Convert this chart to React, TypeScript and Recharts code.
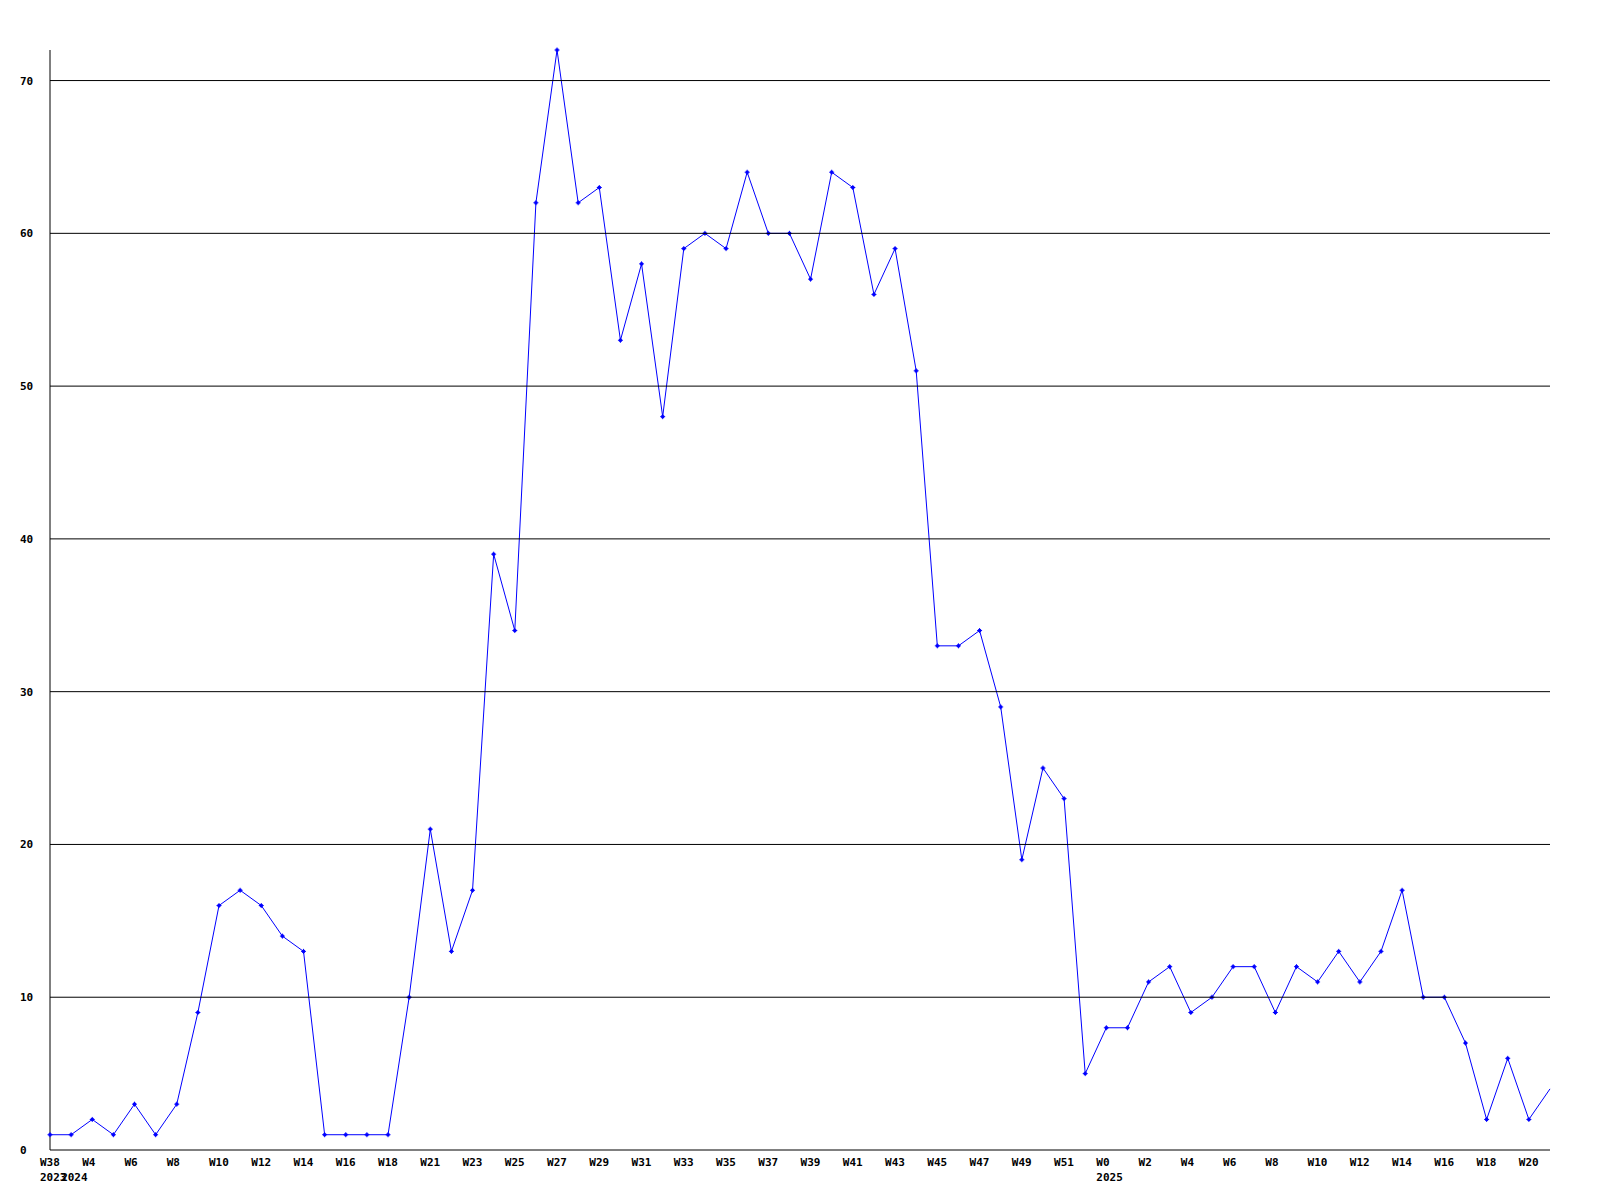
import React from 'react';
import { LineChart, Line, XAxis, YAxis, ReferenceLine } from 'recharts';

// week labels, one per point
const weeks = [
  'W38', 'W3', 'W4', 'W5', 'W6', 'W7', 'W8', 'W9', 'W10', 'W11', 'W12', 'W13',
  'W14', 'W15', 'W16', 'W17', 'W18', 'W19', 'W21', 'W22', 'W23', 'W24', 'W25', 'W26',
  'W27', 'W28', 'W29', 'W30', 'W31', 'W32', 'W33', 'W34', 'W35', 'W36', 'W37', 'W38',
  'W39', 'W40', 'W41', 'W42', 'W43', 'W44', 'W45', 'W46', 'W47', 'W48', 'W49', 'W50',
  'W51', 'W52', 'W0', 'W1', 'W2', 'W3', 'W4', 'W5', 'W6', 'W7', 'W8', 'W9',
  'W10', 'W11', 'W12', 'W13', 'W14', 'W15', 'W16', 'W17', 'W18', 'W19', 'W20', 'W21',
];

// year shown under the first week of each year
const years: Record<number, string> = { 0: '2023', 1: '2024', 50: '2025' };

const counts = [
  1, 1, 2, 1, 3, 1, 3, 9, 16, 17, 16, 14,
  13, 1, 1, 1, 1, 10, 21, 13, 17, 39, 34, 62,
  72, 62, 63, 53, 58, 48, 59, 60, 59, 64, 60, 60,
  57, 64, 63, 56, 59, 51, 33, 33, 34, 29, 19, 25,
  23, 5, 8, 8, 11, 12, 9, 10, 12, 12, 9, 12,
  11, 13, 11, 13, 17, 10, 10, 7, 2, 6, 2, 4,
];

const yTicks = [0, 10, 20, 30, 40, 50, 60, 70];

const data = weeks.map((w, i) => ({ idx: i, week: w, value: counts[i] }));

const FONT = '"DejaVu Sans Mono", monospace';

const WeekTick = (props: any) => {
  const { x, y, payload } = props;
  const i = payload.index;
  const year = years[i];
  return (
    <g>
      {i % 2 === 0 && (
        <text x={x - 10} y={y + 8} fontFamily={FONT} fontSize={11} fontWeight="bold" fill="#000" textAnchor="start">
          {weeks[i]}
        </text>
      )}
      {year && (
        <text x={x - 10} y={y + 23} fontFamily={FONT} fontSize={11} fontWeight="bold" fill="#000" textAnchor="start">
          {year}
        </text>
      )}
    </g>
  );
};

const CountTick = (props: any) => {
  const { y, payload } = props;
  return (
    <text x={20} y={y} dy={4} fontFamily={FONT} fontSize={11} fontWeight="bold" fill="#000" textAnchor="start">
      {payload.value}
    </text>
  );
};

const Marker = (props: any) => {
  const { cx, cy, index } = props;
  if (index === counts.length - 1) return <g key={`m-${index}`} />;
  return (
    <g key={`m-${index}`}>
      <rect x={cx - 1.5} y={cy - 1.5} width={3} height={3} fill="#0000ff" />
      <path d={`M${cx - 2.5},${cy}h5M${cx},${cy - 2.5}v5`} stroke="#0000ff" strokeWidth={1} />
    </g>
  );
};

export default function App() {
  return (
    <div style={{ position: 'absolute', left: 0, top: 0, width: 1600, height: 1200, background: '#fff' }}>
      <LineChart width={1600} height={1200} data={data} margin={{ top: 50, right: 50, bottom: 0, left: 20 }}>
        <XAxis
          dataKey="idx"
          interval={0}
          tick={<WeekTick />}
          tickLine={false}
          axisLine={{ stroke: '#000' }}
          height={50}
        />
        <YAxis
          domain={[0, 72]}
          ticks={yTicks}
          tick={<CountTick />}
          tickLine={false}
          axisLine={{ stroke: '#000' }}
          width={30}
        />
        <Line
          type="linear"
          dataKey="value"
          stroke="#0000ff"
          strokeWidth={1}
          dot={Marker}
          activeDot={false}
          isAnimationActive={false}
        />
        {yTicks.slice(1).map((t) => (
          <ReferenceLine key={t} y={t} stroke="#000" strokeWidth={1} zIndex={1000} />
        ))}
      </LineChart>
    </div>
  );
}
